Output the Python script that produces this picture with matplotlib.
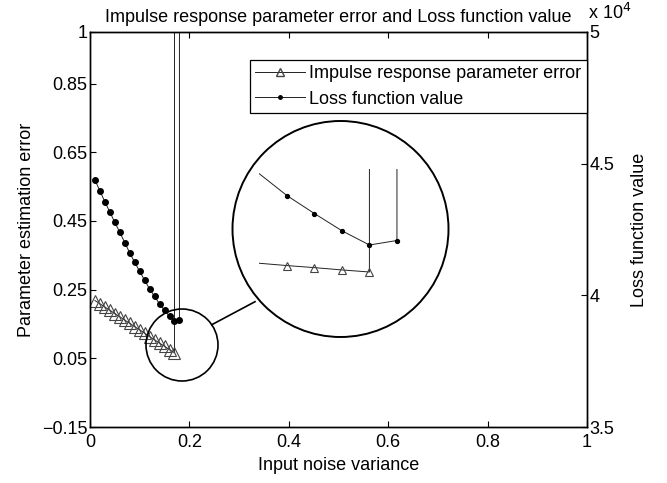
import numpy as np
import matplotlib
matplotlib.use('Agg')
import matplotlib.pyplot as plt
from matplotlib.patches import Ellipse
from matplotlib.lines import Line2D
from matplotlib.ticker import FuncFormatter

plt.rcParams['font.family'] = ['Liberation Sans', 'DejaVu Sans']
plt.rcParams['axes.unicode_minus'] = True

# ---- data ----
noise_tri = [0.01, 0.02, 0.03, 0.04, 0.05, 0.06, 0.07, 0.08, 0.09, 0.10,
             0.11, 0.12, 0.13, 0.14, 0.15, 0.16, 0.17, 0.18]
param_err = [0.218, 0.209, 0.199, 0.190, 0.180, 0.171, 0.161, 0.152, 0.142,
             0.133, 0.123, 0.113, 0.104, 0.094, 0.085, 0.075, 0.066,
             1e7]  # diverges after 0.17
noise_dot = [0.01, 0.02, 0.03, 0.04, 0.05, 0.06, 0.07, 0.08, 0.09, 0.10,
             0.11, 0.12, 0.13, 0.14, 0.15, 0.16, 0.17, 0.18, 0.19]
loss_val = [44380, 43960, 43550, 43160, 42770, 42390, 42000, 41610, 41250,
            40910, 40570, 40240, 39960, 39670, 39430, 39200, 39010, 39070,
            1e12]  # diverges after 0.18

x_ticks = [0, 0.2, 0.4, 0.6, 0.8, 1]
left_ticks = [-0.15, 0.05, 0.25, 0.45, 0.65, 0.85, 1]
right_ticks = [35000, 40000, 45000, 50000]

W, H = 667, 483
fig = plt.figure(figsize=(W / 100, H / 100), dpi=100)


def fx(px):
    return px / W


def fy(py):
    return 1 - py / H


FS = 13
# main axes geometry (pixels)
L, R, T, B = 90, 587, 32, 427
ax = fig.add_axes([fx(L), fy(B), fx(R) - fx(L), fy(T) - fy(B)])
ax2 = ax.twinx()

lc = '#222222'
ax.plot(noise_tri, param_err, color=lc, lw=0.7, marker='^', ms=8.5,
        mfc='none', mec='#444444', mew=0.8)
ax2.plot(noise_dot, loss_val, color=lc, lw=0.7, marker='o', ms=4,
         mfc='black', mec='black')

ax.set_xlim(0, 1)
ax.set_ylim(-0.15, 1)
ax2.set_ylim(35000, 50000)
ax.set_xticks(x_ticks)
ax.set_xticklabels(['0', '0.2', '0.4', '0.6', '0.8', '1'])
ax.set_yticks(left_ticks)
ax.set_yticklabels(['\u22120.15', '0.05', '0.25', '0.45', '0.65', '0.85', '1'])
ax2.set_yticks(right_ticks)
ax2.yaxis.set_major_formatter(FuncFormatter(lambda v, p: f'{v / 1e4:g}'))

for a in (ax, ax2):
    for s in a.spines.values():
        s.set_linewidth(1.0)
        s.set_color('black')
ax.tick_params(axis='both', direction='in', length=4, width=0.8,
               labelsize=FS, top=True, pad=2)
ax.tick_params(axis='x', pad=5)
ax.tick_params(axis='y', right=False)
ax2.tick_params(axis='y', direction='in', length=4, width=0.8,
                labelsize=FS, pad=2)

ax.set_xlabel('Input noise variance', fontsize=FS, labelpad=4)
ax.set_ylabel('Parameter estimation error', fontsize=FS, labelpad=5)
ax2.set_ylabel('Loss function value', fontsize=FS, labelpad=12)
ax.set_title('Impulse response parameter error and Loss function value',
             fontsize=FS, pad=7)
fig.text(fx(588), fy(13), r'x 10$^4$', fontsize=FS, va='center', ha='left')

# legend
h1 = Line2D([], [], color=lc, lw=0.7, marker='^', ms=5.5, mfc='none',
            mec='#444444')
h2 = Line2D([], [], color=lc, lw=0.7, marker='o', ms=2.5, mfc='black',
            mec='black')
leg = ax2.legend([h1, h2], ['Impulse response parameter error',
                            'Loss function value'],
                 loc='upper right', bbox_to_anchor=(1.0, (B - 60) / (B - T)),
                 borderaxespad=0, fancybox=False, framealpha=1,
                 edgecolor='black', fontsize=FS, handlelength=2.75,
                 handletextpad=0.25, labelspacing=0.45, borderpad=0.3)
leg.get_frame().set_linewidth(0.9)

# ---- magnified inset ----
iL, iR, iT, iB = 259.3, 440, 169.3, 330
ia = fig.add_axes([fx(iL), fy(iB), fx(iR) - fx(iL), fy(iT) - fy(iB)])
ia2 = ia.twinx()
for a in (ia, ia2):
    a.set_axis_off()
    a.patch.set_visible(False)
xs_per_px = 0.01 / 27.53
ia.set_xlim(0.13, 0.13 + (iR - iL) * xs_per_px)
ia2.set_xlim(0.13, 0.13 + (iR - iL) * xs_per_px)
# left (triangles): value 0.066 at pixel 272, 230 px per unit
ia.set_ylim(0.066 - (iB - 272) / 230, 0.066 + (272 - iT) / 230)
# right (dots): value 39010 at pixel 245, 750 px per 1e4
ia2.set_ylim(39010 - (iB - 245) / 750 * 1e4, 39010 + (245 - iT) / 750 * 1e4)
ia.plot(noise_tri[12:], param_err[12:], color=lc, lw=0.7, marker='^', ms=5.5,
        mfc='none', mec='#444444', mew=0.8, markevery=slice(1, None))
ia2.plot(noise_dot[12:], loss_val[12:], color=lc, lw=0.7, marker='o', ms=2.8,
         mfc='black', mec='black', markevery=slice(1, None))

# circles and connector
big = Ellipse((fx(340.5), fy(229)), 216 / W, 216 / H, transform=fig.transFigure,
              fill=False, ec='black', lw=1.4)
small = Ellipse((fx(182), fy(345)), 72 / W, 72 / H, transform=fig.transFigure,
                fill=False, ec='black', lw=1.2)
fig.add_artist(big)
fig.add_artist(small)
fig.add_artist(Line2D([fx(211.8), fx(255)], [fy(324.7), fy(301.7)],
                      transform=fig.transFigure, color='black', lw=1.2))

fig.savefig('out.png', dpi=100)
